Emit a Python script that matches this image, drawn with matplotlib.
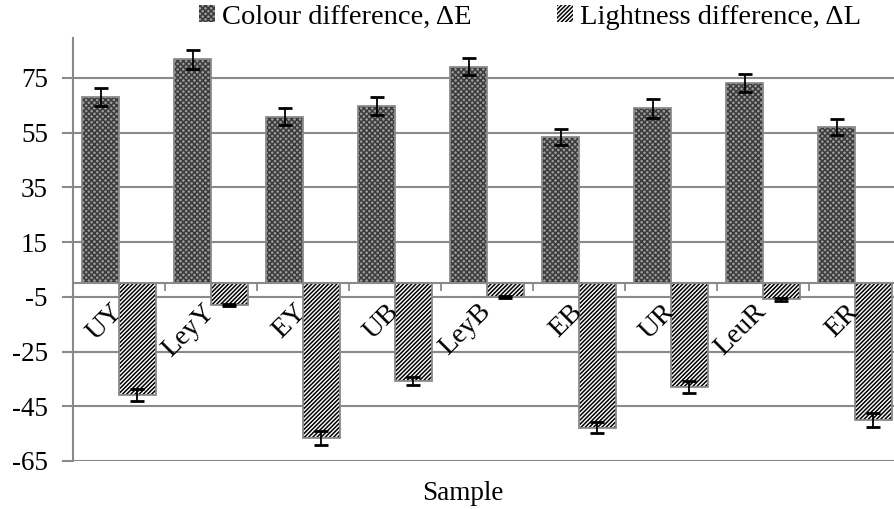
import matplotlib
matplotlib.use("Agg")
import matplotlib.pyplot as plt
import matplotlib.transforms as mtransforms
import numpy as np

categories = ["UY", "LeyY", "EY", "UB", "LeyB", "EB", "UR", "LeuR", "ER"]
delta_e = [68.0, 81.8, 60.9, 64.8, 79.1, 53.4, 63.9, 73.1, 57.1]
delta_e_err = [3.3, 3.4, 3.0, 3.4, 3.1, 3.0, 3.4, 3.4, 3.0]
delta_l = [-40.9, -8.0, -56.6, -35.7, -5.0, -52.9, -37.8, -5.9, -50.0]
delta_l_err = [2.1, 0.5, 2.5, 1.5, 0.3, 2.0, 2.2, 0.5, 2.4]
yticks = [-65, -45, -25, -5, 15, 35, 55, 75]

plt.rcParams['font.family'] = ['Liberation Serif', 'DejaVu Serif']
plt.rcParams['hatch.linewidth'] = 1.1
plt.rcParams['axes.unicode_minus'] = False

W, H = 894, 509
fig = plt.figure(figsize=(W/100, H/100), dpi=100)
ax = fig.add_axes([73/W, 1-461/H, (901-73)/W, (461-38)/H])

x = np.arange(len(categories))
bw = 0.4
grey = '#8a8a8a'

ax.set_xlim(-0.5, len(categories)-0.5)
ax.set_ylim(-65, 89.6)
ax.set_yticks(yticks)
ax.yaxis.grid(True, color=grey, linewidth=1.5)
ax.set_axisbelow(True)

b1 = ax.bar(x - bw/2, delta_e, bw, facecolor='#9a9a9a', edgecolor='#3a3a3a',
            hatch='xxxxxx', linewidth=0, label='Colour difference, ΔE', zorder=2)
b2 = ax.bar(x + bw/2, delta_l, bw, facecolor='white', edgecolor='black',
            hatch='////////', linewidth=0, label='Lightness difference, ΔL', zorder=2)
# outlines
ax.bar(x - bw/2, delta_e, bw, fill=False, edgecolor=grey, linewidth=1.3, zorder=3)
ax.bar(x + bw/2, delta_l, bw, fill=False, edgecolor=grey, linewidth=1.3, zorder=3)

ax.errorbar(x - bw/2, delta_e, yerr=delta_e_err, fmt='none', ecolor='black',
            elinewidth=1.3, capsize=5, capthick=2, zorder=4)
ax.errorbar(x + bw/2, delta_l, yerr=delta_l_err, fmt='none', ecolor='black',
            elinewidth=1.3, capsize=5, capthick=2, zorder=4)

for s in ['top', 'right']:
    ax.spines[s].set_visible(False)
ax.spines['left'].set_color(grey)
ax.spines['left'].set_linewidth(1.5)
ax.spines['bottom'].set_position(('data', 0))
ax.spines['bottom'].set_color(grey)
ax.spines['bottom'].set_linewidth(1.5)

ax.set_xticks([])
ax.set_xticks(np.arange(len(categories)+1) - 0.5, minor=True)
ax.tick_params(axis='x', which='minor', length=6, color=grey, width=1.3,
               direction='out', labelbottom=False)
ax.tick_params(axis='y', length=8, color=grey, width=1.5, labelsize=19.5, pad=10)

offset = mtransforms.ScaledTranslation(-9/100, -16/100, fig.dpi_scale_trans)
for xi, lab in zip(x, categories):
    ax.text(xi, 0, lab, rotation=45, ha='right', va='top', rotation_mode='anchor',
            fontsize=20, transform=ax.transData + offset, zorder=5)

fig.text(463/W, 1-493/H, 'Sample', ha='center', va='center', fontsize=19.5)

fig.legend(handles=[b1, b2], loc='center', bbox_to_anchor=(530/W, 1-17/H), ncol=2,
           frameon=False, fontsize=20.5, handlelength=0.55, handleheight=0.55,
           handletextpad=0.25, columnspacing=3.0, borderaxespad=0)

fig.savefig('out.png', dpi=100)
